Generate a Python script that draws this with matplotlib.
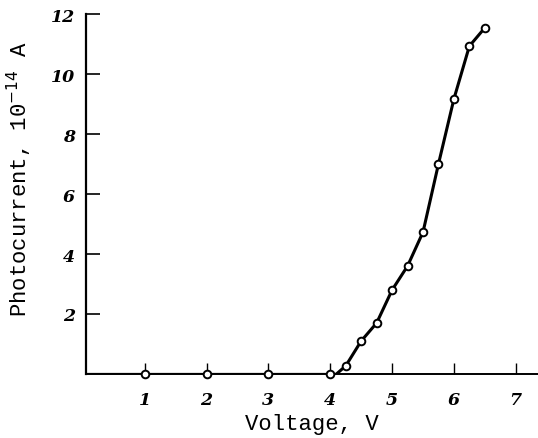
import matplotlib
matplotlib.use("Agg")
import matplotlib.pyplot as plt

voltage = [1, 2, 3, 4, 4.25, 4.5, 4.75, 5.0, 5.25, 5.5, 5.75, 6.0, 6.25, 6.5]
current = [0, 0, 0, 0, 0.27, 1.1, 1.7, 2.8, 3.6, 4.73, 7.0, 9.17, 10.93, 11.54]
xticks = [1, 2, 3, 4, 5, 6, 7]
yticks = [2, 4, 6, 8, 10, 12]

fig = plt.figure(figsize=(5.38, 4.39), dpi=100)
ax = fig.add_axes([0.16, 0.1458, 0.84, 0.82])

# baseline from axis to threshold
ax.plot([0.05, 4.1], [0, 0], color="black", lw=1.6, zorder=2)
ax.plot([4.1] + voltage[4:], [0] + current[4:], color="black", lw=2.2, zorder=2)
ax.plot(voltage, current, linestyle="none", marker="o", ms=5.5,
        mfc="white", mec="black", mew=1.4, zorder=3, clip_on=False)

ax.set_xlim(0.05, 7.36)
ax.set_ylim(0, 12)
ax.set_xticks(xticks)
ax.set_yticks(yticks)
ax.spines["top"].set_visible(False)
ax.spines["right"].set_visible(False)
ax.spines["left"].set_linewidth(1.6)
ax.spines["bottom"].set_linewidth(1.4)
ax.tick_params(axis="y", direction="in", length=10, width=1.2, pad=8)
ax.tick_params(axis="x", direction="in", length=8, width=1.0, pad=12)
for lab in ax.get_xticklabels() + ax.get_yticklabels():
    lab.set_fontfamily("DejaVu Serif")
    lab.set_fontstyle("italic")
    lab.set_fontweight("bold")
    lab.set_fontsize(12.5)

ax.set_xlabel("Voltage, V", family="Liberation Mono", fontsize=16, labelpad=4)
ax.set_ylabel("Photocurrent, 10$^{-14}$ A", family="Liberation Mono", fontsize=16)
ax.yaxis.set_label_coords(-0.115, 0.545)

fig.savefig("out.png", dpi=100)
